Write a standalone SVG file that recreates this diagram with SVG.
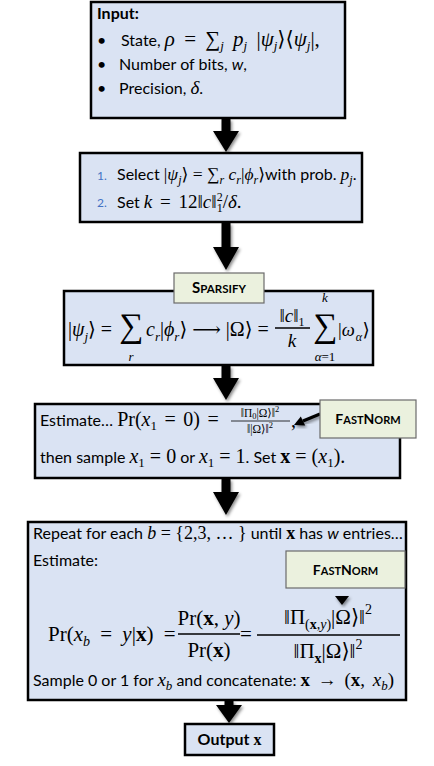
<svg xmlns="http://www.w3.org/2000/svg" width="434" height="766" viewBox="0 0 434 766">
<defs>
<style>
.box{fill:#dae3f3;stroke:#000;stroke-width:2.5}
.lbl{fill:#ebf1de;stroke:#6b6b6b;stroke-width:1.2}
.t{font-family:Lato,"Open Sans",sans-serif;font-size:16px;fill:#000}
.m{font-family:"Liberation Serif","DejaVu Serif",serif}
.i{font-style:italic}
.b{font-weight:bold}
.num{font-family:Lato,sans-serif;font-size:12px;fill:#4472c4}
.sc{font-family:Lato,sans-serif;font-weight:bold;fill:#000}
.arr{fill:#000;filter:url(#sh)}
.ws{word-spacing:3px}
</style>
<filter id="sh" x="-60%" y="-30%" width="220%" height="160%">
<feDropShadow dx="1.5" dy="2" stdDeviation="1.5" flood-color="#000" flood-opacity="0.45"/>
</filter>
</defs>

<g id="connectors">
<path class="arr" d="M221.5 119 H230.5 V131 H239 L226 152 L213 131 H221.5 Z"/>
<path class="arr" d="M221.5 223 H230.5 V247 H239 L226 270 L213 247 H221.5 Z"/>
<path class="arr" d="M221.5 366 H230.5 V378 H239 L226 400 L213 378 H221.5 Z"/>
<path class="arr" d="M221.5 479 H230.5 V492 H239 L226 515 L213 492 H221.5 Z"/>
<path class="arr" d="M224.5 701 H233.5 V705 H242 L229 723 L216 705 H224.5 Z"/>
</g>

<g id="input">
<rect class="box" x="91" y="2" width="254" height="116"/>
<text class="t b" x="97" y="19">Input:</text>
<text class="t" x="97" y="46">•</text>
<text class="t" x="97" y="70">•</text>
<text class="t" x="97" y="94">•</text>
<text class="t" x="121" y="46">State, <tspan class="m" word-spacing="4" font-size="21"><tspan class="i">ρ</tspan> = ∑<tspan class="i" font-size="13" dy="4">j</tspan><tspan class="i" dy="-4"> p</tspan><tspan class="i" font-size="13" dy="4">j</tspan><tspan dy="-4"> |</tspan><tspan class="i">ψ</tspan><tspan class="i" font-size="13" dy="4">j</tspan><tspan dy="-4">⟩⟨</tspan><tspan class="i">ψ</tspan><tspan class="i" font-size="13" dy="4">j</tspan><tspan dy="-4">|,</tspan></tspan></text>
<text class="t" x="119" y="70">Number of bits, <tspan class="i">w</tspan>,</text>
<text class="t" x="119" y="94">Precision, <tspan class="m i" font-size="19">δ</tspan>.</text>
</g>

<g id="select">
<rect class="box" x="80" y="153" width="282" height="69"/>
<text class="num" x="97" y="180">1.</text>
<text class="num" x="97" y="207">2.</text>
<text class="t" x="117" y="180">Select <tspan class="m" font-size="17.5">|<tspan class="i">ψ</tspan><tspan class="i" font-size="12" dy="4">j</tspan><tspan dy="-4">⟩ = ∑</tspan><tspan class="i" font-size="12" dy="4">r</tspan><tspan class="i" dy="-4"> c</tspan><tspan class="i" font-size="12" dy="4">r</tspan><tspan dy="-4">|</tspan><tspan class="i">ϕ</tspan><tspan class="i" font-size="12" dy="4">r</tspan><tspan dy="-4">⟩</tspan></tspan>with prob. <tspan class="m i" font-size="17.5">p</tspan><tspan class="m i" font-size="12" dy="4">j</tspan><tspan dy="-4">.</tspan></text>
<text class="t" x="117" y="208">Set <tspan class="m ws" font-size="19"><tspan class="i">k</tspan> = 12‖<tspan class="i">c</tspan>‖<tspan font-size="12" dy="-7" word-spacing="0">2</tspan><tspan font-size="12" dx="-6" dy="11">1</tspan><tspan dy="-4">/</tspan><tspan class="i">δ</tspan>.</tspan></text>
</g>

<g id="sparsify">
<rect class="box" x="64" y="291" width="309" height="74"/>
<text class="m" font-size="20" x="68" y="336">|<tspan class="i">ψ</tspan><tspan class="i" font-size="13" dy="5">j</tspan><tspan dy="-5">⟩ =</tspan></text>
<text class="m" font-size="34" x="131" y="337" text-anchor="middle">∑</text>
<text class="m i" font-size="13" x="131" y="361" text-anchor="middle">r</text>
<text class="m" font-size="20" x="146" y="336"><tspan class="i">c</tspan><tspan class="i" font-size="13" dy="5">r</tspan><tspan dy="-5">|</tspan><tspan class="i">ϕ</tspan><tspan class="i" font-size="13" dy="5">r</tspan><tspan dy="-5">⟩ ⟶ |Ω⟩ =</tspan></text>
<text class="m" font-size="19" x="292" y="322" text-anchor="middle">‖<tspan class="i">c</tspan>‖<tspan font-size="12" dy="4">1</tspan></text>
<line x1="275" y1="328" x2="310" y2="328" stroke="#000" stroke-width="1.3"/>
<text class="m i" font-size="19" x="292" y="347" text-anchor="middle">k</text>
<text class="m i" font-size="13" x="325" y="302" text-anchor="middle">k</text>
<text class="m" font-size="34" x="325" y="337" text-anchor="middle">∑</text>
<text class="m" font-size="13" x="325" y="361" text-anchor="middle"><tspan class="i">α</tspan>=1</text>
<text class="m" font-size="18.5" x="338" y="336">|<tspan class="i">ω</tspan><tspan class="i" font-size="12" dy="5" dx="1">α</tspan><tspan dy="-5" dx="0.5">⟩</tspan></text>
<rect class="lbl" x="174" y="273" width="90" height="30"/>
<text class="sc" x="219" y="293" text-anchor="middle"><tspan font-size="15">S</tspan><tspan font-size="11.5">PARSIFY</tspan></text>
</g>

<g id="estimate1">
<rect class="box" x="35" y="404" width="365" height="74"/>
<text class="t" x="40" y="426">Estimate… <tspan class="m" word-spacing="2.5" font-size="20">Pr(<tspan class="i">x</tspan><tspan font-size="13" dy="4">1</tspan><tspan dy="-4"> = 0) =</tspan></tspan></text>
<text class="m" font-size="11.5" x="260" y="417" text-anchor="middle">‖Π<tspan font-size="8.5" dy="2">0</tspan><tspan dy="-2">|Ω⟩‖</tspan><tspan font-size="8.5" dy="-5">2</tspan></text>
<line x1="231" y1="421" x2="290" y2="421" stroke="#000" stroke-width="0.8"/>
<text class="m" font-size="11.5" x="260" y="433" text-anchor="middle">‖|Ω⟩‖<tspan font-size="8.5" dy="-5">2</tspan></text>
<text class="m" font-size="20" x="291" y="427">,</text>
<text class="t" x="40" y="463">then sample <tspan class="m" font-size="20"><tspan class="i">x</tspan><tspan font-size="13" dy="4">1</tspan><tspan dy="-4"> = 0</tspan></tspan> or <tspan class="m" font-size="20"><tspan class="i">x</tspan><tspan font-size="13" dy="4">1</tspan><tspan dy="-4"> = 1</tspan></tspan>. Set <tspan class="m" font-size="20"><tspan class="b">x</tspan> = (<tspan class="i">x</tspan><tspan font-size="13" dy="4">1</tspan><tspan dy="-4">).</tspan></tspan></text>
<path d="M320 414 L303 421" stroke="#000" stroke-width="3" filter="url(#sh)"/>
<path d="M294 425 L305.2 425.5 L300.8 416.5 Z" fill="#000" filter="url(#sh)"/>
<rect class="lbl" x="320" y="400" width="96" height="38"/>
<text class="sc" x="368" y="424" text-anchor="middle"><tspan font-size="14">F</tspan><tspan font-size="11">AST</tspan><tspan font-size="14">N</tspan><tspan font-size="11">ORM</tspan></text>
</g>

<g id="repeat">
<rect class="box" x="28" y="522" width="378" height="178"/>
<text class="t" x="33" y="539">Repeat for each <tspan class="m" font-size="18"><tspan class="i">b</tspan> = {2,3, … }</tspan> until <tspan class="m b" font-size="18">x</tspan> has <tspan class="i">w</tspan> entries…</text>
<text class="t" x="33" y="566">Estimate:</text>
<text class="m" font-size="21" word-spacing="5" x="48" y="641">Pr(<tspan class="i">x</tspan><tspan class="i" font-size="14" dy="5">b</tspan><tspan dy="-5"> = </tspan><tspan class="i">y</tspan>|<tspan class="b">x</tspan>) =</text>
<text class="m" font-size="21" x="209" y="625" text-anchor="middle">Pr(<tspan class="b">x</tspan>, <tspan class="i">y</tspan>)</text>
<line x1="178" y1="634" x2="240" y2="634" stroke="#000" stroke-width="1.3"/>
<text class="m" font-size="21" x="209" y="657" text-anchor="middle">Pr(<tspan class="b">x</tspan>)</text>
<text class="m" font-size="21" x="246" y="641" text-anchor="middle">=</text>
<text class="m" font-size="21" x="328" y="624" text-anchor="middle">‖Π<tspan font-size="14" dy="5">(<tspan class="b">x</tspan>,<tspan class="i">y</tspan>)</tspan><tspan dy="-5">|Ω⟩‖</tspan><tspan font-size="14" dy="-10">2</tspan></text>
<line x1="257" y1="635" x2="400" y2="635" stroke="#000" stroke-width="1.3"/>
<text class="m" font-size="21" x="328" y="658" text-anchor="middle">‖Π<tspan class="b" font-size="14" dy="5">x</tspan><tspan dy="-5">|Ω⟩‖</tspan><tspan font-size="14" dy="-9">2</tspan></text>
<text class="t" x="33" y="686">Sample 0 or 1 for <tspan class="m i" font-size="19">x</tspan><tspan class="m i" font-size="13" dy="4">b</tspan><tspan dy="-4"> and concatenate: </tspan><tspan class="m ws" font-size="19"><tspan class="b">x</tspan> → (<tspan class="b">x</tspan>, <tspan class="i">x</tspan><tspan class="i" font-size="13" dy="4">b</tspan><tspan dy="-4">)</tspan></tspan></text>
<path d="M342 588 V597" stroke="#000" stroke-width="3.5" filter="url(#sh)"/>
<path d="M335 596 H349 L342 605 Z" fill="#000" filter="url(#sh)"/>
<rect class="lbl" x="286" y="551" width="119" height="37"/>
<text class="sc" x="345.5" y="575" text-anchor="middle"><tspan font-size="14">F</tspan><tspan font-size="11">AST</tspan><tspan font-size="14">N</tspan><tspan font-size="11">ORM</tspan></text>
</g>

<g id="output">
<rect class="box" x="185" y="724" width="89" height="31"/>
<text class="t b" x="229.5" y="745" text-anchor="middle">Output <tspan class="m">x</tspan></text>
</g>
</svg>
